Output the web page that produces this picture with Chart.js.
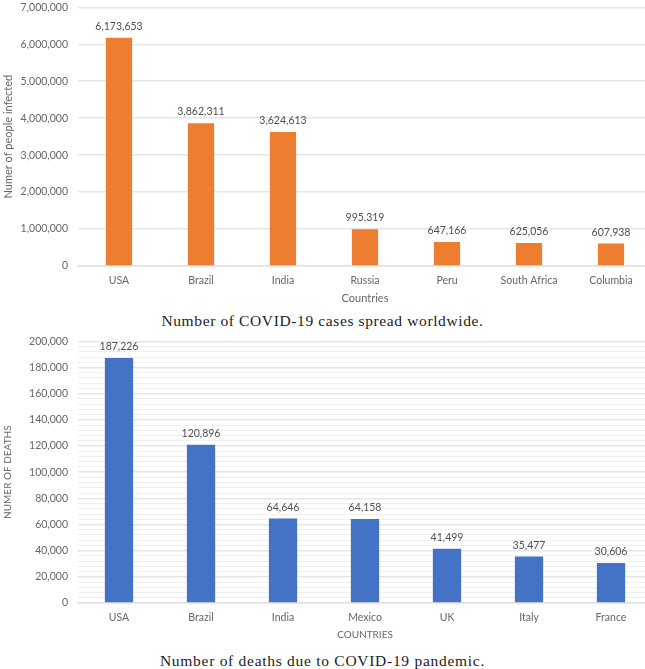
<!DOCTYPE html>
<html>
<head>
<meta charset="utf-8">
<script src="https://cdn.jsdelivr.net/npm/chart.js@4"></script>
<style>
  html, body { margin: 0; padding: 0; background: #fff; overflow: hidden; }
  #page { position: relative; width: 645px; height: 669px; overflow: hidden; }
  canvas { position: absolute; left: 0; }
  .caption { position: absolute; left: 0; width: 645px; text-align: center; font: 15.5px "Liberation Serif", serif; letter-spacing: 0.62px; color: #222; }
</style>
</head>
<body>
<div id="page">
  <canvas id="cases"></canvas>
  <div class="caption" style="top:312px">Number of COVID-19 cases spread worldwide.</div>
  <canvas id="deaths"></canvas>
  <div class="caption" style="top:652px;letter-spacing:0.72px">Number of deaths due to COVID-19 pandemic.</div>
</div>
<script>
const casesCountries = ['USA', 'Brazil', 'India', 'Russia', 'Peru', 'South Africa', 'Columbia'];
const casesValues = [6173653, 3862311, 3624613, 995319, 647166, 625056, 607938];
const deathCountries = ['USA', 'Brazil', 'India', 'Mexico', 'UK', 'Italy', 'France'];
const deathValues = [187226, 120896, 64646, 64158, 41499, 35477, 30606];

const fontName = 'Lato, "Noto Sans", sans-serif';
const textColor = '#666666';

// draws the value above each bar
const barLabels = {
  id: 'barLabels',
  afterDatasetsDraw(chart) {
    const ctx = chart.ctx;
    const meta = chart.getDatasetMeta(0);
    ctx.save();
    ctx.font = '10.5px ' + fontName;
    ctx.fillStyle = '#505050';
    ctx.textAlign = 'center';
    ctx.textBaseline = 'bottom';
    meta.data.forEach(function(bar, i) {
      ctx.fillText(chart.data.datasets[0].data[i].toLocaleString('en-US'), bar.x, bar.y - 6);
    });
    ctx.restore();
  }
};

function makeChart(id, top, height, plotBottom, cfg) {
  const el = document.getElementById(id);
  el.style.top = top + 'px';
  el.style.width = '652px';
  el.style.height = height + 'px';
  el.width = 652;
  el.height = height;
  return new Chart(el, {
    type: 'bar',
    data: {
      labels: cfg.labels,
      datasets: [{ data: cfg.values, backgroundColor: cfg.color, barPercentage: cfg.barSize, categoryPercentage: 1 }]
    },
    plugins: [barLabels],
    options: {
      responsive: false,
      animation: false,
      layout: { padding: { top: 0, bottom: height - plotBottom - cfg.axisHeight, left: 0, right: 0 } },
      plugins: { legend: { display: false }, tooltip: { enabled: false } },
      scales: {
        x: {
          afterFit(scale) { scale.height = cfg.axisHeight; },
          grid: { display: false },
          border: { color: '#e2e2e2', width: 1.5 },
          ticks: { color: textColor, font: { family: fontName, size: 10.5 }, padding: 0, maxRotation: 0, autoSkip: false },
          title: { display: true, text: cfg.xTitle, color: textColor, font: { family: fontName, size: cfg.xTitleSize }, padding: { top: 0, bottom: 0 } }
        },
        y: {
          min: 0,
          max: cfg.max,
          afterFit(scale) { scale.width = 78; },
          ticks: {
            stepSize: cfg.step,
            autoSkip: false,
            color: textColor,
            font: { family: fontName, size: 10.5 },
            padding: 10,
            callback(v) { return v % cfg.major === 0 ? v.toLocaleString('en-US') : ''; }
          },
          grid: {
            drawTicks: false,
            lineWidth(c) { return c.tick.value % cfg.major === 0 ? 1.5 : 1; },
            color(c) { return c.tick.value % cfg.major === 0 ? '#e6e6e6' : '#f0f0f0'; }
          },
          border: { display: false },
          title: { display: true, text: cfg.yTitle, color: textColor, font: { family: fontName, size: cfg.yTitleSize }, padding: { top: 2, bottom: 0 } }
        }
      }
    }
  });
}

makeChart('cases', -9, 321, 275, {
  labels: casesCountries, values: casesValues, color: '#ed7d31', barSize: 0.32,
  max: 7000000, step: 1000000, major: 1000000, axisHeight: 39, xTitleSize: 11, yTitleSize: 11,
  xTitle: 'Countries', yTitle: 'Numer of people infected'
});
makeChart('deaths', 325, 319, 278, {
  labels: deathCountries, values: deathValues, color: '#4472c4', barSize: 0.345,
  max: 200000, step: 4000, major: 20000, axisHeight: 38, xTitleSize: 10, yTitleSize: 10,
  xTitle: 'COUNTRIES', yTitle: 'NUMER OF DEATHS'
});
</script>
</body>
</html>
